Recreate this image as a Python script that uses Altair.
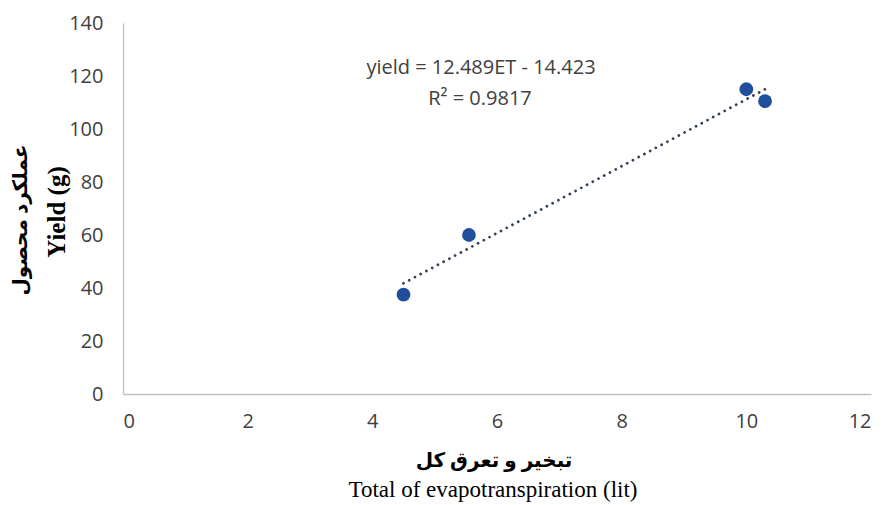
import altair as alt
import pandas as pd

# Data
et = [4.5, 5.55, 10.0, 10.3]
yield_g = [37.5, 60.0, 115.0, 110.5]
x_ticks = [0, 2, 4, 6, 8, 10, 12]
y_ticks = [0, 20, 40, 60, 80, 100, 120, 140]
eq_text = ["yield = 12.489ET - 14.423", "R\u00b2 = 0.9817"]
x_title = ["تبخیر و تعرق کل", "Total of evapotranspiration (lit)"]
y_title = ["عملکرد محصول", "Yield (g)"]

df = pd.DataFrame({"ET": et, "Yield": yield_g})

W, H = 748, 371
LABEL_FONT = "Open Sans"

x_enc = alt.X(
    "ET:Q",
    scale=alt.Scale(domain=[0, 12], nice=False, zero=False),
    axis=alt.Axis(values=x_ticks, format="d", title=None, grid=False, ticks=False,
                  domainColor="#BFBFBF", domainWidth=1.3,
                  labelFont=LABEL_FONT, labelFontSize=20, labelColor="#404040",
                  labelPadding=17),
)
y_enc = alt.Y(
    "Yield:Q",
    scale=alt.Scale(domain=[0, 140], nice=False),
    axis=alt.Axis(values=y_ticks, format="d", title=None, grid=False, ticks=False,
                  domainColor="#BFBFBF", domainWidth=1.3,
                  labelFont=LABEL_FONT, labelFontSize=20, labelColor="#404040",
                  labelPadding=20),
)

base = alt.Chart(df)

points = base.mark_circle(size=190, color="#1F4E9C", opacity=1).encode(x=x_enc, y=y_enc)

trend = base.transform_regression("ET", "Yield").mark_line(
    color="#34425A", strokeWidth=2.8, strokeDash=[0.01, 6.5], strokeCap="round"
).encode(x="ET:Q", y="Yield:Q")

eq_a = alt.Chart(pd.DataFrame({"t": [eq_text[0]]})).mark_text(
    font=LABEL_FONT, fontSize=20, color="#404040", align="center", baseline="middle"
).encode(x=alt.value(358), y=alt.value(45), text="t:N")
eq_b = alt.Chart(pd.DataFrame({"t": [eq_text[1]]})).mark_text(
    font=LABEL_FONT, fontSize=20, color="#404040", align="center", baseline="middle"
).encode(x=alt.value(357), y=alt.value(76), text="t:N")

xt1 = alt.Chart(pd.DataFrame({"t": [x_title[0]]})).mark_text(
    font="Liberation Serif, DejaVu Sans", fontSize=20, fontWeight="bold", color="#000000",
    align="center", baseline="middle"
).encode(x=alt.value(371), y=alt.value(438), text="t:N")
xt2 = alt.Chart(pd.DataFrame({"t": [x_title[1]]})).mark_text(
    font="Liberation Serif", fontSize=23, color="#000000",
    align="center", baseline="middle"
).encode(x=alt.value(370), y=alt.value(467), text="t:N")
yt1 = alt.Chart(pd.DataFrame({"t": [y_title[0]]})).mark_text(
    font="Liberation Serif, DejaVu Sans", fontSize=20, fontWeight="bold", color="#000000",
    align="center", baseline="middle", angle=270
).encode(x=alt.value(-102), y=alt.value(197), text="t:N")
yt2 = alt.Chart(pd.DataFrame({"t": [y_title[1]]})).mark_text(
    font="Liberation Serif", fontSize=25, fontWeight="bold", color="#000000",
    align="center", baseline="middle", angle=270
).encode(x=alt.value(-66), y=alt.value(189), text="t:N")

chart = alt.layer(trend, points, eq_a, eq_b, xt1, xt2, yt1, yt2).properties(
    width=W, height=H,
    autosize=alt.AutoSizeParams(type="none"),
    padding={"left": 123, "top": 23, "right": 12, "bottom": 111},
    background="white",
).configure_view(stroke=None)

chart.save("out.html", embed_options={"renderer": "svg", "actions": False})
